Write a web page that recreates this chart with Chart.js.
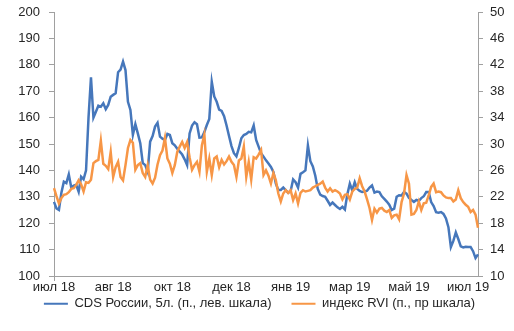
<!DOCTYPE html>
<html>
<head>
<meta charset="utf-8">
<script src="https://cdn.jsdelivr.net/npm/chart.js@4.4.1/dist/chart.umd.min.js"></script>
<style>
  html, body { margin: 0; padding: 0; background: #ffffff; }
  #wrap { width: 514px; height: 331px; }
</style>
</head>
<body>
<div id="wrap"><canvas id="c" width="514" height="331"></canvas></div>
<script>
// Axis labels shown every LABEL_STEP trading days
const tickLabels = ['июл 18', 'авг 18', 'окт 18', 'дек 18', 'янв 19', 'мар 19', 'май 19', 'июл 19'];
const LABEL_STEP = 24;

// CDS России, 5 лет, п. (левая шкала)
const cds = [
  128.1, 125.6, 125.0, 131.5, 135.7, 135.2, 138.5, 133.5, 134.2, 134.5,
  131.9, 137.6, 136.6, 140.0, 160.0, 175.3, 160.0, 162.2, 164.5, 164.1,
  165.4, 163.2, 164.8, 167.9, 168.6, 169.2, 177.2, 178.2, 181.2, 178.0,
  166.0, 162.9, 153.5, 157.5, 154.0, 150.3, 142.8, 142.0, 139.5, 150.9,
  153.0, 156.6, 158.0, 152.8, 152.0, 151.5, 153.8, 153.4, 150.3, 149.5,
  148.2, 147.1, 146.0, 144.2, 142.0, 154.0, 157.0, 158.2, 157.5, 152.4,
  152.5, 154.5, 157.2, 159.5, 173.6, 168.0, 166.0, 163.0, 162.5, 160.5,
  157.0, 153.0, 149.2, 146.5, 145.3, 148.5, 152.2, 153.4, 153.8, 154.6,
  154.4, 157.0, 151.5, 149.0, 146.5, 145.2, 143.8, 142.6, 141.3, 139.4,
  135.0, 132.6, 132.6, 133.5, 132.5, 131.5, 132.2, 136.6, 135.5, 133.5,
  138.7, 139.3, 140.0, 149.5, 143.5, 141.5, 138.0, 133.0, 130.8, 130.3,
  130.0, 128.5, 126.9, 127.8, 126.9, 126.0, 125.4, 126.2, 125.2, 131.0,
  135.0, 132.4, 135.5, 133.0, 132.2, 131.8, 132.0, 132.3, 133.5, 134.3,
  131.6, 132.0, 131.8, 130.2, 129.2, 128.2, 127.0, 125.0, 125.5, 130.0,
  130.6, 130.5, 131.8, 131.2, 129.6, 128.8, 128.1, 128.8, 128.5, 129.5,
  130.2, 131.8, 131.8, 128.0, 126.5, 124.2, 124.0, 124.2, 123.5, 121.8,
  118.5, 111.0, 113.3, 116.5, 114.0, 111.2, 110.8, 111.1, 111.0, 111.0,
  109.4, 106.8, 108.2
];

// Индекс RVI, п. (правая шкала)
const rvi = [
  23.3, 22.1, 21.0, 21.8, 22.3, 22.4, 22.7, 23.2, 23.3, 23.8,
  24.5, 23.9, 22.8, 24.2, 24.1, 24.6, 27.1, 27.4, 27.6, 30.5,
  27.0, 26.7, 26.2, 28.8, 25.0, 26.5, 27.3, 25.0, 24.5, 26.8,
  29.4, 30.6, 30.2, 26.1, 26.8, 27.1, 25.6, 25.0, 26.8, 24.6,
  24.0, 24.9, 26.9, 28.3, 29.0, 30.9, 27.8, 27.0, 25.6, 26.8,
  28.8, 29.6, 30.3, 29.4, 30.3, 28.0, 26.1, 26.8, 27.3, 25.8,
  29.8, 31.4, 25.8, 27.8, 25.3, 27.8, 28.1, 26.5, 27.6, 26.9,
  27.4, 28.1, 27.3, 26.8, 25.0, 27.5, 27.8, 29.6, 25.0, 27.3,
  24.6, 28.0, 27.8, 28.4, 29.1, 25.3, 26.0, 25.2, 24.0, 25.6,
  24.5, 22.5, 21.3, 22.5, 23.0, 22.6, 23.0, 21.5, 22.5, 21.0,
  22.6, 23.0, 22.8, 22.9, 23.0, 23.4, 23.6, 23.8, 24.0, 24.3,
  23.4, 22.8, 23.3, 22.8, 23.0, 22.8, 22.5, 21.6, 22.3, 22.4,
  21.6, 22.8, 23.2, 23.4, 24.8, 23.6, 22.8, 21.6, 20.3, 18.5,
  20.2, 19.6, 20.2, 20.3, 19.9, 19.7, 20.0, 18.8, 19.2, 19.3,
  18.6, 21.2, 22.5, 25.3, 24.0, 19.3, 19.4, 20.0, 21.3, 20.0,
  21.0, 21.1, 22.2, 23.5, 24.0, 22.7, 22.8, 22.7, 22.2, 21.9,
  21.8, 21.8, 21.3, 21.6, 23.0, 21.8, 21.2, 20.8, 20.5, 19.7,
  20.0, 19.3, 17.3
];

const labels = cds.map((_, i) => (i % LABEL_STEP === 0 ? tickLabels[i / LABEL_STEP] : ''));

const FONT = { family: "'Liberation Sans', Arial, sans-serif", size: 13 };
const TEXT = '#262626';
const AXIS = '#A0A0A0';
const BLUE = '#4677BB';
const ORANGE = '#F79646';
const LEGEND_GAP = 20;
const LEGEND_CENTER_Y = 305;

// Places the legend row just under the category labels
const legendRow = {
  id: 'legendRow',
  afterLayout(chart) {
    const lg = chart.legend;
    if (!lg) return;
    const lineH = FONT.size * 1.2;
    lg.top = LEGEND_CENTER_Y - LEGEND_GAP - lineH / 2;
    lg.bottom = chart.height;
    lg.height = lg.bottom - lg.top;
  }
};

// value axes: no extra room reserved for the end labels
const noEndPadding = (scale) => {
  scale.paddingTop = 0;
  scale.paddingBottom = 0;
};

new Chart(document.getElementById('c'), {
  type: 'line',
  data: {
    labels: labels,
    datasets: [
      {
        label: 'CDS России, 5л. (п., лев. шкала)',
        data: cds,
        yAxisID: 'yL',
        borderColor: BLUE,
        backgroundColor: BLUE,
        borderWidth: 2.5,
        pointRadius: 0,
        tension: 0,
        order: 1
      },
      {
        label: 'индекс RVI (п., пр шкала)',
        data: rvi,
        yAxisID: 'yR',
        borderColor: ORANGE,
        backgroundColor: ORANGE,
        borderWidth: 2.5,
        pointRadius: 0,
        tension: 0,
        order: 0
      }
    ]
  },
  options: {
    responsive: false,
    animation: false,
    events: [],
    layout: { padding: { left: 5, right: 0, top: 12, bottom: 2 } },
    scales: {
      x: {
        type: 'category',
        offset: false,
        border: { display: true, color: AXIS, width: 1 },
        grid: {
          drawOnChartArea: false,
          drawTicks: true,
          tickLength: 5,
          color: (ctx) => (ctx.index % LABEL_STEP === 0 ? AXIS : 'rgba(0,0,0,0)')
        },
        ticks: {
          autoSkip: false,
          maxRotation: 0,
          minRotation: 0,
          padding: -1,
          color: TEXT,
          font: FONT,
          callback: function (value, index) {
            const l = labels[index];
            return l === '' ? null : l;
          }
        },
        afterFit: (scale) => { scale.height = 23; }
      },
      yL: {
        type: 'linear',
        position: 'left',
        min: 100,
        max: 200,
        border: { display: true, color: AXIS, width: 1 },
        grid: { drawOnChartArea: false, drawTicks: true, tickLength: 5, color: AXIS },
        ticks: { stepSize: 10, padding: 9, color: TEXT, font: FONT },
        afterFit: (scale) => { scale.width = 49; noEndPadding(scale); }
      },
      yR: {
        type: 'linear',
        position: 'right',
        min: 10,
        max: 50,
        border: { display: true, color: AXIS, width: 1 },
        grid: { drawOnChartArea: false, drawTicks: true, tickLength: 5, color: AXIS },
        ticks: { stepSize: 4, padding: 7, color: TEXT, font: FONT },
        afterFit: (scale) => { scale.width = 36; noEndPadding(scale); }
      }
    },
    plugins: {
      tooltip: { enabled: false },
      legend: {
        position: 'bottom',
        maxHeight: 30,
        labels: {
          color: TEXT,
          font: FONT,
          boxWidth: 24,
          boxHeight: 2,
          padding: LEGEND_GAP,
          sort: (a, b) => a.datasetIndex - b.datasetIndex,
          generateLabels: (chart) => {
            const items = Chart.defaults.plugins.legend.labels.generateLabels(chart);
            items.forEach((it) => { it.lineWidth = 0; it.fillStyle = it.strokeStyle; });
            return items;
          }
        }
      }
    }
  },
  plugins: [legendRow]
});
</script>
</body>
</html>
